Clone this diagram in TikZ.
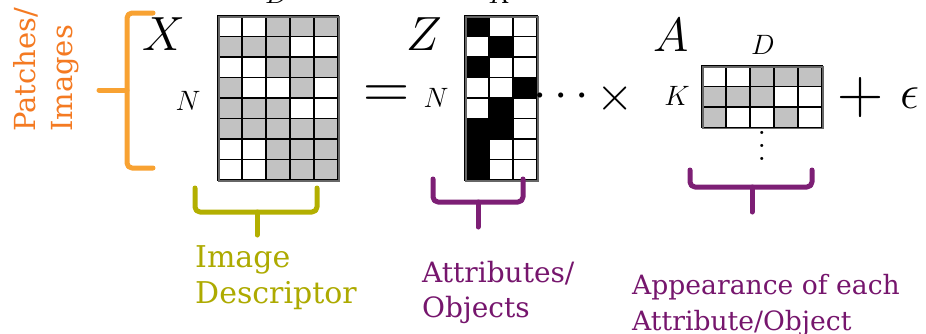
\RequirePackage{fix-cm}
\documentclass[tikz,border=0pt]{standalone}
\usepackage{amsmath,amssymb}
\usepackage{fontspec}
\newfontfamily\slabfont{DejaVu Serif}
\usetikzlibrary{positioning,calc}
\definecolor{brorange}{HTML}{F8A232}
\definecolor{txorange}{HTML}{F47A22}
\definecolor{brolive}{HTML}{B3AF00}
\definecolor{txolive}{HTML}{ADAA00}
\definecolor{brpurple}{HTML}{7D1F75}
\definecolor{txpurple}{HTML}{76166D}
\definecolor{cw}{HTML}{FFFFFF}
\definecolor{cg}{HTML}{C2C2C2}
\definecolor{ck}{HTML}{000000}
\tikzset{
    every node/.style={inner sep=0pt},
    cell/.style={draw=black,line width=1.4pt},
    matframe/.style={draw=black!60,line width=1.6pt,anchor=north west},
    bigname/.style={font=\fontsize{48}{48}\selectfont},
    dimlabel/.style={font=\fontsize{28}{28}\selectfont},
    opsign/.style={font=\fontsize{48}{48}\selectfont},
    relsign/.style={font=\fontsize{64}{64}\selectfont},
    bracestroke/.style={line width=5pt,line cap=round,line join=round,rounded corners=5pt},
    caption/.style={font=\slabfont\fontsize{28}{35}\selectfont,align=left,anchor=north west}
}

\begin{document}
\begin{tikzpicture}[x=1pt,y=-1pt]
\useasboundingbox (0,0) rectangle (926,333);
\clip (0,0) rectangle (926,333);

% matrix X (N x D)
\foreach \rowvals [count=\r] in {{w,w,g,g,g},{g,g,g,w,w},{w,w,g,g,g},{g,w,w,g,w},
                                 {g,g,g,w,w},{g,g,g,g,g},{w,w,g,g,g},{w,w,g,g,g}}
  \foreach \v [count=\c] in \rowvals
    \path[cell,fill=c\v] (194+24*\c,-4.5+20.5*\r) rectangle ++(24,20.5);
\node[matframe,minimum width=120pt,minimum height=164pt] (Xmat) at (218,16) {};

% matrix Z (N x K)
\foreach \rowvals [count=\r] in {{k,w,w},{w,k,w},{k,w,w},{w,w,k},
                                 {w,k,w},{k,k,w},{k,w,w},{k,w,w}}
  \foreach \v [count=\c] in \rowvals
    \path[cell,fill=c\v] (441+24*\c,-4.5+20.5*\r) rectangle ++(24,20.5);
\node[matframe,minimum width=72pt,minimum height=164pt] (Zmat) at (465,16) {};

% matrix A (K x D)
\foreach \rowvals [count=\r] in {{w,w,g,g,g},{g,g,g,w,w},{g,w,w,g,w}}
  \foreach \v [count=\c] in \rowvals
    \path[cell,fill=c\v] (678+24*\c,45.5+20.5*\r) rectangle ++(24,20.5);
\node[matframe,minimum width=120pt,minimum height=61.5pt] (Amat) at (702,66) {};

% names and sizes
\node[bigname] (Xname) at (164,34) {$X$};
\node[dimlabel] (XD) at (277,-6) {$D$};
\node[dimlabel] (XN) at (188,101) {$N$};
\node[relsign] (eq) at (387,97) {$=$};
\node[dimlabel] (ZN) at (436,98) {$N$};
\node[bigname] (Zname) at (424,34) {$Z$};
\node[dimlabel] (ZK) at (501,-6) {$K$};
\node[opsign] (dots) at (565,97) {$\cdots$};
\node[opsign] (times) at (615,98) {$\times$};
\node[bigname] (Aname) at (671,35) {$A$};
\node[dimlabel] (AD) at (763,45) {$D$};
\node[dimlabel] (AK) at (677,96) {$K$};
\node[dimlabel,align=center,font=\fontsize{38}{13}\selectfont] (vdots) at (762,146) {.\\.\\.};
\node[relsign] (plus) at (861,97) {$+$};
\node[opsign] (eps) at (910,98) {$\epsilon$};

% braces
\draw[bracestroke,brorange] (153,13) -- (127,13) -- (127,168) -- (153,168);
\draw[bracestroke,brorange] (127,90) -- (99,90);
\draw[bracestroke,brolive] (195,188) -- (195,212) -- (317,212) -- (317,188);
\draw[bracestroke,brolive] (257,212) -- (257,235);
\draw[bracestroke,brpurple] (433,179) -- (433,202) -- (523,202) -- (523,179);
\draw[bracestroke,brpurple] (478,202) -- (478,227);
\draw[bracestroke,brpurple] (690,170) -- (690,187) -- (812,187) -- (812,170);
\draw[bracestroke,brpurple] (752,187) -- (752,212);

% captions
\node[caption,font=\slabfont\fontsize{29}{37}\selectfont,text=txorange,
      rotate=90,anchor=south west] (patches) at (79,132) {Patches/\\Images};
\node[caption,font=\slabfont\fontsize{30}{36}\selectfont,text=txolive] (descr) at (195,245) {Image\\Descriptor};
\node[caption,text=txpurple] (attr) at (422,261) {Attributes/\\Objects};
\node[caption,font=\slabfont\fontsize{26.6}{36}\selectfont,text=txpurple] (appear) at (632,274) {Appearance of each\\Attribute/Object};
\end{tikzpicture}
\end{document}
